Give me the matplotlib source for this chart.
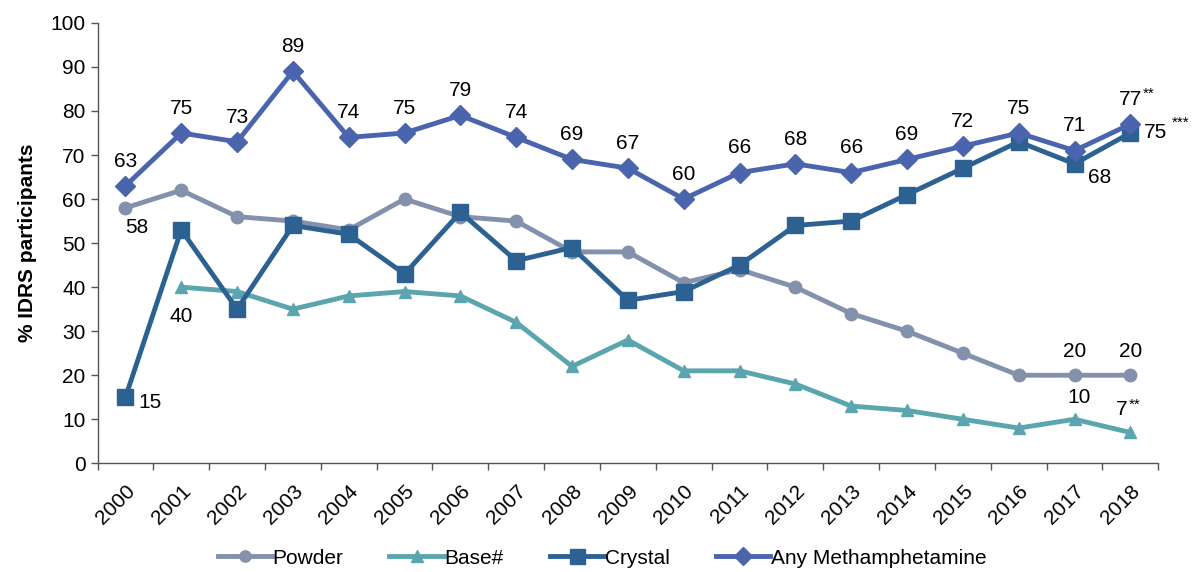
import numpy as np
from matplotlib import pyplot as plt

plt.rcParams['font.family'] = ['Liberation Sans', 'DejaVu Sans']

years = [str(y) for y in range(2000, 2019)]
powder = [58, 62, 56, 55, 53, 60, 56, 55, 48, 48, 41, 44, 40, 34, 30, 25, 20, 20, 20]
base = [np.nan, 40, 39, 35, 38, 39, 38, 32, 22, 28, 21, 21, 18, 13, 12, 10, 8, 10, 7]
crystal = [15, 53, 35, 54, 52, 43, 57, 46, 49, 37, 39, 45, 54, 55, 61, 67, 73, 68, 75]
any_meth = [63, 75, 73, 89, 74, 75, 79, 74, 69, 67, 60, 66, 68, 66, 69, 72, 75, 71, 77]

c_powder = '#8391ad'
c_base = '#5ba6ae'
c_crystal = '#2c6191'
c_any = '#4a65ae'

x = np.arange(len(years))

fig = plt.figure(figsize=(12.04, 5.72), dpi=100)
ax = fig.add_axes([0.081, 0.19, 0.881, 0.77])

ax.plot(x, powder, c=c_powder, lw=3.5, marker='o', ms=9, label='Powder')
ax.plot(x, base, c=c_base, lw=3.5, marker='^', ms=9, label='Base#')
ax.plot(x, crystal, c=c_crystal, lw=3.5, marker='s', ms=12, label='Crystal')
ax.plot(x, any_meth, c=c_any, lw=3.5, marker='D', ms=10, label='Any Methamphetamine')

fs = 15
sfs = 11
# Any Methamphetamine labels above the points
for i, v in enumerate(any_meth):
    ax.annotate(str(v), (i, v), xytext=(0, 11), textcoords='offset points',
                ha='center', va='bottom', fontsize=fs)
ax.annotate('**', (18, any_meth[18]), xytext=(9, 17), textcoords='offset points',
            ha='left', va='bottom', fontsize=sfs)

# other labels
ax.annotate(str(powder[0]), (0, powder[0]), xytext=(0, -7), textcoords='offset points',
            ha='left', va='top', fontsize=fs)
ax.annotate(str(crystal[0]), (0, crystal[0]), xytext=(9, -4), textcoords='offset points',
            ha='left', va='center', fontsize=fs)
ax.annotate(str(base[1]), (1, base[1]), xytext=(0, -14), textcoords='offset points',
            ha='center', va='top', fontsize=fs)
for i in [17, 18]:
    ax.annotate(str(powder[i]), (i, powder[i]), xytext=(0, 10), textcoords='offset points',
                ha='center', va='bottom', fontsize=fs)
ax.annotate(str(base[17]), (17, base[17]), xytext=(3, 9), textcoords='offset points',
            ha='center', va='bottom', fontsize=fs)
ax.annotate(str(base[18]), (18, base[18]), xytext=(-6, 10), textcoords='offset points',
            ha='center', va='bottom', fontsize=fs)
ax.annotate('**', (18, base[18]), xytext=(-1, 15), textcoords='offset points',
            ha='left', va='bottom', fontsize=sfs)
ax.annotate(str(crystal[17]), (17, crystal[17]), xytext=(10, -3), textcoords='offset points',
            ha='left', va='top', fontsize=fs)
ax.annotate(str(crystal[18]), (18, crystal[18]), xytext=(10, 0), textcoords='offset points',
            ha='left', va='center', fontsize=fs)
ax.annotate('***', (18, crystal[18]), xytext=(30, 2), textcoords='offset points',
            ha='left', va='bottom', fontsize=sfs)

ax.set_xlim(-0.5, len(x) - 0.5)
ax.set_ylim(0, 100)
ax.set_yticks(range(0, 101, 10))
ax.tick_params(axis='y', labelsize=fs, length=5, width=1, color='#555555')
ax.set_xticks(x)
ax.set_xticklabels(years, rotation=45, ha='right', rotation_mode='anchor', fontsize=fs)
ax.tick_params(axis='x', length=0, pad=13)
ax.set_xticks(np.arange(-0.5, len(x), 1), minor=True)
ax.tick_params(axis='x', which='minor', length=5, width=1, color='#555555')

for s in ['top', 'right']:
    ax.spines[s].set_visible(False)
for s in ['left', 'bottom']:
    ax.spines[s].set_color('#555555')
    ax.spines[s].set_linewidth(1)

ax.set_ylabel('% IDRS participants', fontsize=15, fontweight='bold', labelpad=10)

fig.legend(loc='center', bbox_to_anchor=(0.5, 0.024), ncol=4, frameon=False,
           fontsize=fs, handlelength=2.6, handletextpad=0.05, columnspacing=2.2,
           markerscale=0.9)

plt.savefig('out.png', dpi=100)
